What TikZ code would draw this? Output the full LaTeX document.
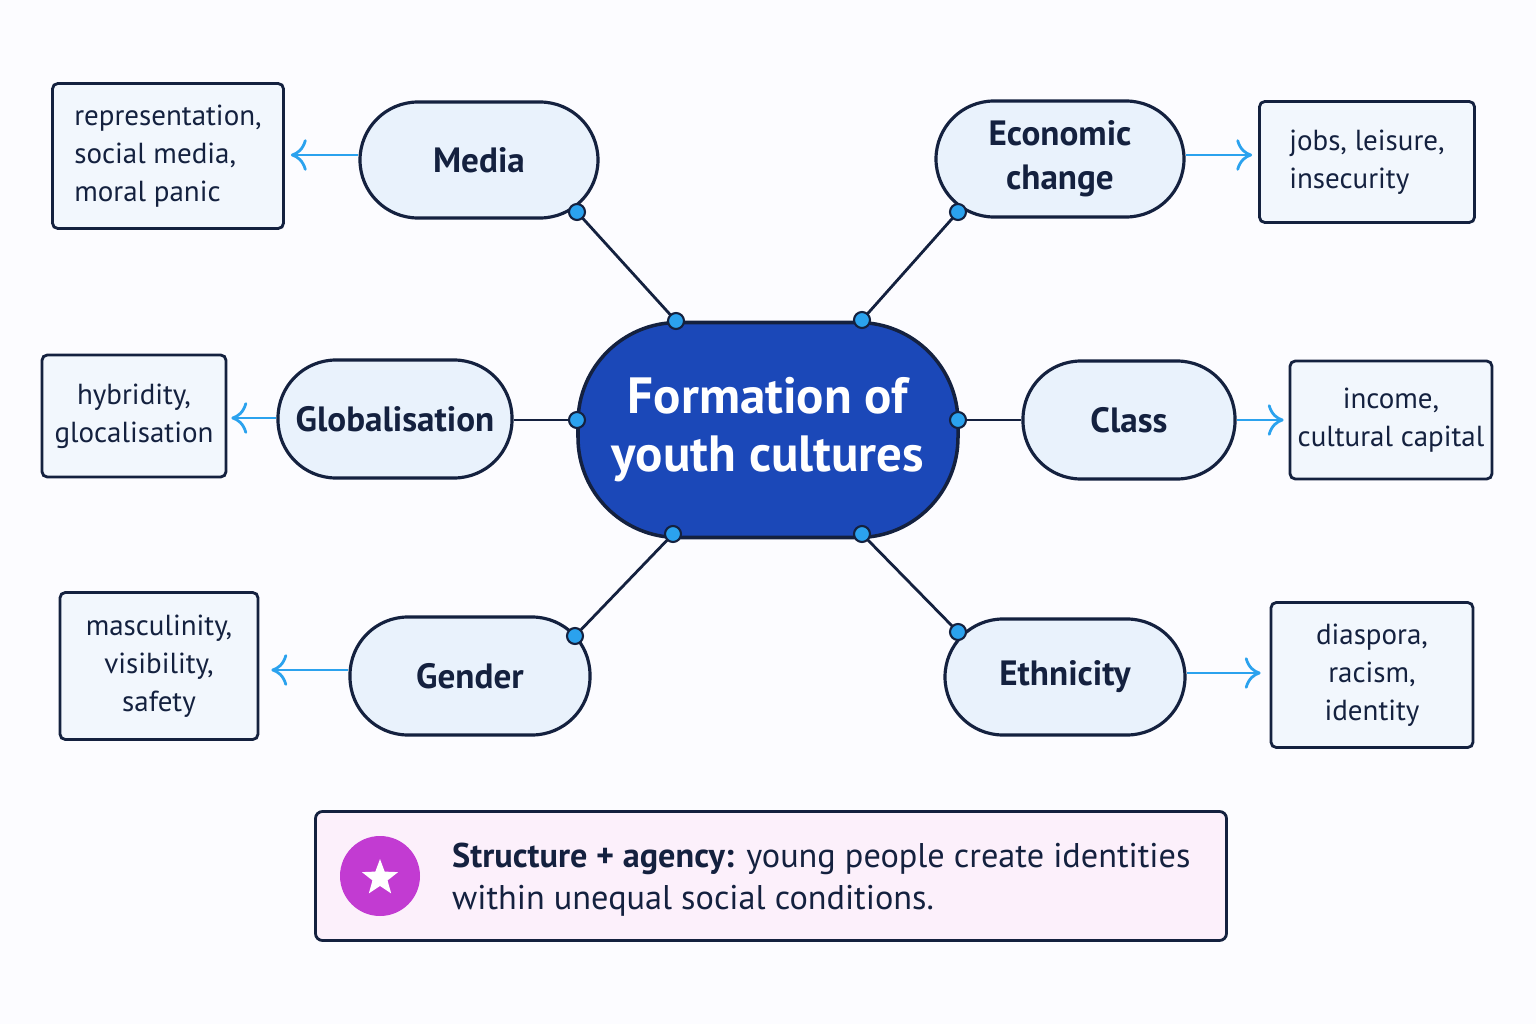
\documentclass[tikz,border=0pt]{standalone}
\usepackage{fontspec}
\setmainfont{PT Sans}
\usetikzlibrary{positioning,shapes,arrows.meta}
\definecolor{navy}{HTML}{14213F}
\definecolor{hubblue}{HTML}{1B48B8}
\definecolor{pale}{HTML}{E9F2FC}
\definecolor{sky}{HTML}{2BA2EE}
\definecolor{pinkbg}{HTML}{FCF0FB}
\definecolor{magenta}{HTML}{C23BD2}
\tikzset{
  factor/.style={rectangle, rounded corners=58*0.02cm, draw=navy, line width=1.8pt, fill=pale,
    font=\fontsize{20}{25}\selectfont\bfseries, text=navy, align=center},
  leaf/.style={rectangle, rounded corners=3pt, draw=navy, line width=1.6pt, fill=pale!60,
    font=\fontsize{16.5}{21.5}\selectfont, text=navy, align=center},
  link/.style={draw=navy, line width=1.6pt},
  hint/.style={draw=sky, line width=1.6pt, -{To[length=9pt,width=18pt,line width=1.6pt]}},
  dot/.style={circle, fill=sky, draw=navy, line width=1.2pt, inner sep=0pt, minimum size=16*0.02cm}
}
\begin{document}
\begin{tikzpicture}[x=0.02cm,y=-0.02cm]
  \fill[fill=white!97!blue!40] (0,0) rectangle (1536,1024);
  \useasboundingbox (0,0) rectangle (1536,1024);

  \node [rectangle, rounded corners=100*0.02cm, draw=navy, line width=2pt, fill=hubblue, text=white,
    minimum width=380*0.02cm, minimum height=215*0.02cm, align=center,
    font=\fontsize{29}{33}\selectfont\bfseries] (hub) at (768,430) {Formation of\\youth cultures};

  % factors
  \node [factor, minimum width=238*0.02cm, minimum height=116*0.02cm] (media) at (479,160) {Media};
  \node [factor, minimum width=248*0.02cm, minimum height=116*0.02cm] (econ) at (1060,159) {Economic\\change};
  \node [factor, minimum width=234*0.02cm, minimum height=118*0.02cm] (glob) at (395,419) {Globalisation};
  \node [factor, minimum width=212*0.02cm, minimum height=118*0.02cm] (class) at (1129,420) {Class};
  \node [factor, minimum width=240*0.02cm, minimum height=118*0.02cm] (gender) at (470,676) {Gender};
  \node [factor, minimum width=240*0.02cm, minimum height=116*0.02cm] (ethn) at (1065,677) {Ethnicity};

  % leaves
  \node [leaf, align=left, minimum width=231*0.02cm, minimum height=145*0.02cm] (l-media) at (168,156) {representation,\\social media,\\moral panic};
  \node [leaf, align=left, minimum width=215*0.02cm, minimum height=121*0.02cm] (l-econ) at (1367,162) {jobs, leisure,\\insecurity};
  \node [leaf, minimum width=184*0.02cm, minimum height=122*0.02cm] (l-glob) at (134,416) {hybridity,\\glocalisation};
  \node [leaf, minimum width=202*0.02cm, minimum height=118*0.02cm] (l-class) at (1391,420) {income,\\cultural capital};
  \node [leaf, minimum width=198*0.02cm, minimum height=147*0.02cm] (l-gender) at (159,666) {masculinity,\\visibility,\\safety};
  \node [leaf, minimum width=202*0.02cm, minimum height=145*0.02cm] (l-ethn) at (1372,675) {diaspora,\\racism,\\identity};

  % connectors
  \coordinate (h-nw) at (676,321);  \coordinate (media-d) at (577,212);
  \coordinate (h-ne) at (862,320);  \coordinate (econ-d) at (958,212);
  \coordinate (h-w) at (577,420);
  \coordinate (h-e) at (958,420);
  \coordinate (h-sw) at (673,534);  \coordinate (gender-d) at (575,636);
  \coordinate (h-se) at (862,534);  \coordinate (ethn-d) at (958,632);
  \draw [link] (h-nw) -- (media-d);
  \draw [link] (h-ne) -- (econ-d);
  \draw [link] (h-w) -- (glob.east |- h-w);
  \draw [link] (h-e) -- (class.west |- h-e);
  \draw [link] (h-sw) -- (gender-d);
  \draw [link] (h-se) -- (ethn-d);
  \foreach \p in {h-nw,media-d,h-ne,econ-d,h-w,h-e,h-sw,gender-d,h-se,ethn-d}
    \node [dot] at (\p) {};

  % hints
  \draw [hint] (media.west |- 0,155) -- ([xshift=6*0.02cm]l-media.east |- 0,155);
  \draw [hint] (econ.east |- 0,155) -- ([xshift=-6*0.02cm]l-econ.west |- 0,155);
  \draw [hint] (glob.west |- 0,418) -- ([xshift=4*0.02cm]l-glob.east |- 0,418);
  \draw [hint] (class.east) -- ([xshift=-5*0.02cm]l-class.west);
  \draw [hint] (gender.west |- 0,670) -- ([xshift=12*0.02cm]l-gender.east |- 0,670);
  \draw [hint] (ethn.east |- 0,673) -- ([xshift=-9*0.02cm]l-ethn.west |- 0,673);

  % takeaway
  \node [rectangle, rounded corners=4pt, draw=navy, line width=1.6pt, fill=pinkbg,
    minimum width=911*0.02cm, minimum height=129*0.02cm] (note) at (771,876) {};
  \node [circle, fill=magenta, minimum size=80*0.02cm, inner sep=0pt] (star) at (380,876) {};
  \node [star, star points=5, star point ratio=2.4, fill=white, minimum size=38*0.02cm, inner sep=0pt] at (380,878) {};
  \node [anchor=west, align=left, text=navy, font=\fontsize{19.5}{24}\selectfont] (note-t) at (446,880)
    {\textbf{Structure + agency:} young people create identities\\within unequal social conditions.};
\end{tikzpicture}
\end{document}
